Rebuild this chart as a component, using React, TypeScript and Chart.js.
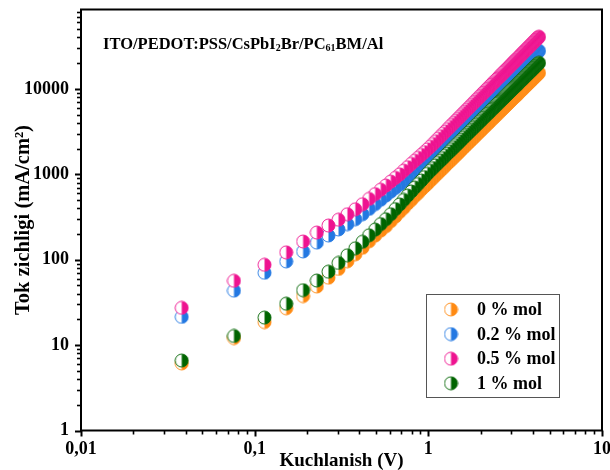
import React, { useEffect, useRef } from 'react';
import { Chart, registerables } from 'chart.js';

Chart.register(...registerables);

// ---- data ----
const voltage = [
  0.038, 0.076, 0.114, 0.152, 0.19, 0.228, 0.266, 0.304, 0.342, 0.38,
  0.418, 0.456, 0.494, 0.532, 0.57, 0.608, 0.646, 0.684, 0.722, 0.76,
  0.798, 0.836, 0.874, 0.912, 0.95, 0.988, 1.026, 1.064, 1.102, 1.14,
  1.178, 1.216, 1.254, 1.292, 1.33, 1.368, 1.406, 1.444, 1.482, 1.52,
  1.558, 1.596, 1.634, 1.672, 1.71, 1.748, 1.786, 1.824, 1.862, 1.9,
  1.938, 1.976, 2.014, 2.052, 2.09, 2.128, 2.166, 2.204, 2.242, 2.28,
  2.318, 2.356, 2.394, 2.432, 2.47, 2.508, 2.546, 2.584, 2.622, 2.66,
  2.698, 2.736, 2.774, 2.812, 2.85, 2.888, 2.926, 2.964, 3.002, 3.04,
  3.078, 3.116, 3.154, 3.192, 3.23, 3.268, 3.306, 3.344, 3.382, 3.42,
  3.458, 3.496, 3.534, 3.572, 3.61, 3.648, 3.686, 3.724, 3.762, 3.8,
  3.838, 3.876, 3.914, 3.952, 3.99, 4.028, 4.066, 4.104, 4.142, 4.18,
  4.218, 4.256, 4.294, 4.332,
];

// 0 % mol
const j0 = [
  6.1, 12.1, 18.6, 27, 37.5, 48.5, 61.5, 77.9, 95.8, 115.7,
  137.9, 164.2, 191.5, 219, 246.7, 282.3, 319.4, 362.7, 403.8, 453.8,
  500, 555, 603.7, 663, 717.5, 774.7, 840.4, 904.6, 971.8, 1040,
  1110, 1185, 1260, 1340, 1420, 1504, 1589, 1678, 1766, 1860,
  1954, 2054, 2152, 2255, 2358, 2467, 2575, 2689, 2802, 2921,
  3039, 3163, 3285, 3413, 3540, 3673, 3804, 3941, 4078, 4221,
  4363, 4511, 4658, 4810, 4961, 5118, 5275, 5437, 5598, 5764,
  5930, 6102, 6273, 6450, 6627, 6809, 6989, 7175, 7360, 7551,
  7742, 7938, 8134, 8335, 8535, 8740, 8944, 9153, 9364, 9581,
  9798, 10020, 10237, 10460, 10687, 10920, 11147, 11380, 11617, 11860,
  12097, 12340, 12587, 12840, 13087, 13340, 13592, 13850, 14107, 14370,
  14637, 14910, 15177, 15450,
];

// 0.2 % mol
const j02 = [
  21.4, 43.4, 70.2, 95.5, 124.8, 158.6, 191.7, 226, 261, 298,
  341, 393, 448, 504, 564, 627, 693, 760, 834, 910,
  989, 1070, 1153, 1238, 1327, 1420, 1518, 1635, 1755, 1880,
  2007, 2142, 2277, 2421, 2565, 2718, 2871, 3032, 3193, 3363,
  3533, 3711, 3889, 4076, 4264, 4460, 4656, 4861, 5067, 5281,
  5495, 5717, 5939, 6170, 6399, 6637, 6876, 7123, 7372, 7630,
  7889, 8156, 8424, 8700, 8972, 9253, 9539, 9833, 10122, 10420,
  10725, 11040, 11350, 11670, 11985, 12310, 12640, 12980, 13315, 13660,
  14005, 14360, 14715, 15080, 15440, 15810, 16180, 16560, 16940, 17330,
  17720, 18120, 18515, 18920, 19330, 19750, 20165, 20590, 21010, 21440,
  21870, 22310, 22750, 23200, 23655, 24120, 24580, 25050, 25520, 26000,
  26480, 26970, 27450, 27940,
];

// 0.5 % mol
const j05 = [
  27.3, 56.6, 87.1, 121.8, 163.4, 208, 251, 294, 341, 389,
  446, 515, 586, 660, 739, 821, 908, 998, 1102, 1211,
  1324, 1442, 1561, 1688, 1820, 1959, 2103, 2266, 2438, 2613,
  2795, 2985, 3178, 3381, 3586, 3802, 4020, 4250, 4480, 4722,
  4967, 5224, 5478, 5745, 6014, 6296, 6579, 6874, 7170, 7478,
  7786, 8106, 8427, 8760, 9094, 9441, 9787, 10145, 10506, 10880,
  11254, 11640, 12024, 12420, 12823, 13240, 13653, 14080, 14504, 14940,
  15383, 15840, 16289, 16750, 17218, 17700, 18179, 18670, 19168, 19680,
  20188, 20710, 21224, 21750, 22278, 22820, 23368, 23930, 24488, 25060,
  25643, 26240, 26818, 27410, 28013, 28630, 29238, 29860, 30488, 31130,
  31768, 32420, 33073, 33740, 34408, 35090, 35773, 36470, 37168, 37880,
  38593, 39320, 40043, 40780,
];

// 1 % mol
const j1 = [
  6.6, 12.8, 21, 30.5, 44, 57, 72.3, 91.5, 112.6, 136,
  162, 193, 225, 261, 298, 341, 391, 444, 501, 563,
  629, 698, 770, 846, 927, 1014, 1100, 1184, 1272, 1361,
  1453, 1551, 1649, 1754, 1858, 1968, 2079, 2196, 2312, 2435,
  2558, 2688, 2817, 2952, 3087, 3229, 3371, 3520, 3668, 3823,
  3978, 4140, 4300, 4467, 4634, 4808, 4980, 5159, 5339, 5525,
  5711, 5904, 6097, 6296, 6494, 6699, 6904, 7116, 7327, 7545,
  7763, 7987, 8211, 8442, 8674, 8912, 9148, 9391, 9634, 9883,
  10133, 10390, 10647, 10910, 11171, 11440, 11707, 11980, 12257, 12540,
  12821, 13110, 13397, 13690, 13986, 14290, 14587, 14890, 15201, 15520,
  15831, 16150, 16471, 16800, 17126, 17460, 17791, 18130, 18466, 18810,
  19156, 19510, 19861, 20220,
];

const seriesLabels = ['0 % mol', '0.2 % mol', '0.5 % mol', '1 % mol'];
const seriesColors = ['#FF8A12', '#2378E2', '#EE1390', '#006400'];
const seriesDrawOrder = [3, 2, 1, 0];

const xTickValues = [0.01, 0.1, 1, 10];
const xTickText = ['0,01', '0,1', '1', '10'];
const yTickValues = [1, 10, 100, 1000, 10000];
const yTickText = ['1', '10', '100', '1000', '10000'];

const xTitle = 'Kuchlanish (V)';
const yTitle = 'Tok zichligi (mA/cm²)';
const deviceSegments = [
  { t: 'ITO/PEDOT:PSS/CsPbI', sub: false },
  { t: '2', sub: true },
  { t: 'Br/PC', sub: false },
  { t: '61', sub: true },
  { t: 'BM/Al', sub: false },
];

const FONT = '"Liberation Serif", "Times New Roman", serif';

function makeHalfMarker(color: string): HTMLCanvasElement {
  const c = document.createElement('canvas');
  c.width = 15;
  c.height = 15;
  const g = c.getContext('2d')!;
  const cx = 7.5, cy = 7.5, r = 6.5;
  g.fillStyle = '#ffffff';
  g.beginPath();
  g.arc(cx, cy, r, 0, Math.PI * 2);
  g.fill();
  g.fillStyle = color;
  g.beginPath();
  g.moveTo(cx, cy - r);
  g.arc(cx, cy, r, -Math.PI / 2, Math.PI / 2);
  g.closePath();
  g.fill();
  g.strokeStyle = color;
  g.lineWidth = 0.9;
  g.beginPath();
  g.arc(cx, cy, r, 0, Math.PI * 2);
  g.stroke();
  return c;
}

function labelFor(v: number, vals: number[], texts: string[]): string {
  for (let i = 0; i < vals.length; i++) {
    if (Math.abs(v - vals[i]) / vals[i] < 1e-6) return texts[i];
  }
  return '';
}

function isDecadeStep(v: number): boolean {
  const e = Math.floor(Math.log10(v) + 1e-9);
  const m = v / Math.pow(10, e);
  return Math.abs(m - Math.round(m)) < 1e-6;
}

const framePlugin = {
  id: 'frameTicks',
  afterDatasetsDraw(chart: any) {
    const { ctx, chartArea: a, scales } = chart;
    const x = scales.x, y = scales.y;
    ctx.save();
    ctx.strokeStyle = '#000';
    for (const t of x.ticks) {
      if (!isDecadeStep(t.value)) continue;
      const major = labelFor(t.value, xTickValues, xTickText) !== '';
      const px = Math.round(x.getPixelForValue(t.value)) + 0.5;
      ctx.lineWidth = major ? 2 : 1.6;
      ctx.beginPath();
      ctx.moveTo(px, a.bottom);
      ctx.lineTo(px, a.bottom + (major ? 6 : 4));
      ctx.stroke();
    }
    for (const t of y.ticks) {
      if (!isDecadeStep(t.value)) continue;
      const major = labelFor(t.value, yTickValues, yTickText) !== '';
      const py = Math.round(y.getPixelForValue(t.value)) + 0.5;
      ctx.lineWidth = major ? 2 : 1.6;
      ctx.beginPath();
      ctx.moveTo(a.left, py);
      ctx.lineTo(a.left - (major ? 6 : 4), py);
      ctx.stroke();
    }
    ctx.lineWidth = 2;
    ctx.strokeRect(a.left, a.top, a.right - a.left, a.bottom - a.top);

    // device annotation
    let tx = a.left + 22;
    const base = a.top + 39;
    ctx.fillStyle = '#000';
    ctx.textBaseline = 'alphabetic';
    ctx.textAlign = 'left';
    for (const s of deviceSegments) {
      ctx.font = s.sub ? `bold 10px ${FONT}` : `bold 16.5px ${FONT}`;
      ctx.fillText(s.t, tx, s.sub ? base + 2 : base);
      tx += ctx.measureText(s.t).width;
    }

    // legend
    const bw = 133, bh = 103;
    const bx = a.right - 43 - bw;
    const by = a.bottom - 33.5 - bh;
    ctx.lineWidth = 1;
    ctx.strokeStyle = '#555';
    ctx.fillStyle = '#fff';
    ctx.fillRect(bx, by, bw, bh);
    ctx.strokeRect(bx + 0.5, by + 0.5, bw, bh);
    ctx.font = `bold 18px ${FONT}`;
    ctx.textBaseline = 'middle';
    chart.data.datasets.forEach((ds: any, i: number) => {
      const cy = by + 15.5 + i * 24.6;
      const img = ds.pointStyle as HTMLCanvasElement;
      ctx.drawImage(img, bx + 25 - img.width / 2, cy - img.height / 2);
      ctx.fillStyle = '#000';
      ctx.fillText(ds.label, bx + 51, cy + 1);
    });
    ctx.restore();
  },
};

export default function App() {
  const ref = useRef<HTMLCanvasElement | null>(null);

  useEffect(() => {
    if (!ref.current) return;
    const series = [j0, j02, j05, j1];
    const datasets = series.map((vals, i) => ({
      label: seriesLabels[i],
      // drawn from high to low voltage so each marker sits on the one after it
      data: vals.map((v, k) => ({ x: voltage[k], y: v })).reverse(),
      showLine: false,
      pointStyle: makeHalfMarker(seriesColors[i]),
      pointRadius: 7,
      borderColor: seriesColors[i],
      backgroundColor: seriesColors[i],
      order: seriesDrawOrder[i],
    }));

    const tickFont = { family: FONT, size: 18, weight: 'bold' as const };

    const chart = new Chart(ref.current, {
      type: 'scatter',
      data: { datasets },
      options: {
        responsive: false,
        animation: false,
        devicePixelRatio: 1,
        layout: { padding: { left: 0, right: 7, top: 9.5, bottom: 0 } },
        plugins: {
          legend: { display: false },
          tooltip: { enabled: false },
        },
        elements: { point: { hoverRadius: 7 } },
        scales: {
          x: {
            type: 'logarithmic',
            min: 0.01,
            max: 10,
            grid: { display: false, drawTicks: false },
            border: { display: false },
            ticks: {
              autoSkip: false,
              maxRotation: 0,
              padding: 8,
              color: '#000',
              font: tickFont,
              callback: (v: any) => labelFor(Number(v), xTickValues, xTickText),
            },
            title: {
              display: true,
              text: xTitle,
              color: '#000',
              font: { family: FONT, size: 19, weight: 'bold' },
              padding: { top: 0, bottom: -2 },
            },
            afterFit: (s: any) => {
              s.height = 39.5;
              s.paddingLeft = 0;
              s.paddingRight = 0;
            },
          },
          y: {
            type: 'logarithmic',
            min: 1,
            max: 85000,
            grid: { display: false, drawTicks: false },
            border: { display: false },
            ticks: {
              autoSkip: false,
              padding: 12,
              color: '#000',
              font: tickFont,
              callback: (v: any) => labelFor(Number(v), yTickValues, yTickText),
            },
            title: {
              display: true,
              text: yTitle,
              color: '#000',
              font: { family: FONT, size: 20.5, weight: 'bold' },
              padding: { top: 11, bottom: 0 },
            },
            afterFit: (s: any) => {
              s.width = 81;
              s.paddingTop = 0;
              s.paddingBottom = 0;
            },
          },
        },
      },
      plugins: [framePlugin],
    } as any);

    return () => chart.destroy();
  }, []);

  return (
    <div style={{ position: 'absolute', left: 0, top: 0, width: 610, height: 470, background: '#fff' }}>
      <canvas ref={ref} width={610} height={470} style={{ display: 'block', width: 610, height: 470 }} />
    </div>
  );
}
